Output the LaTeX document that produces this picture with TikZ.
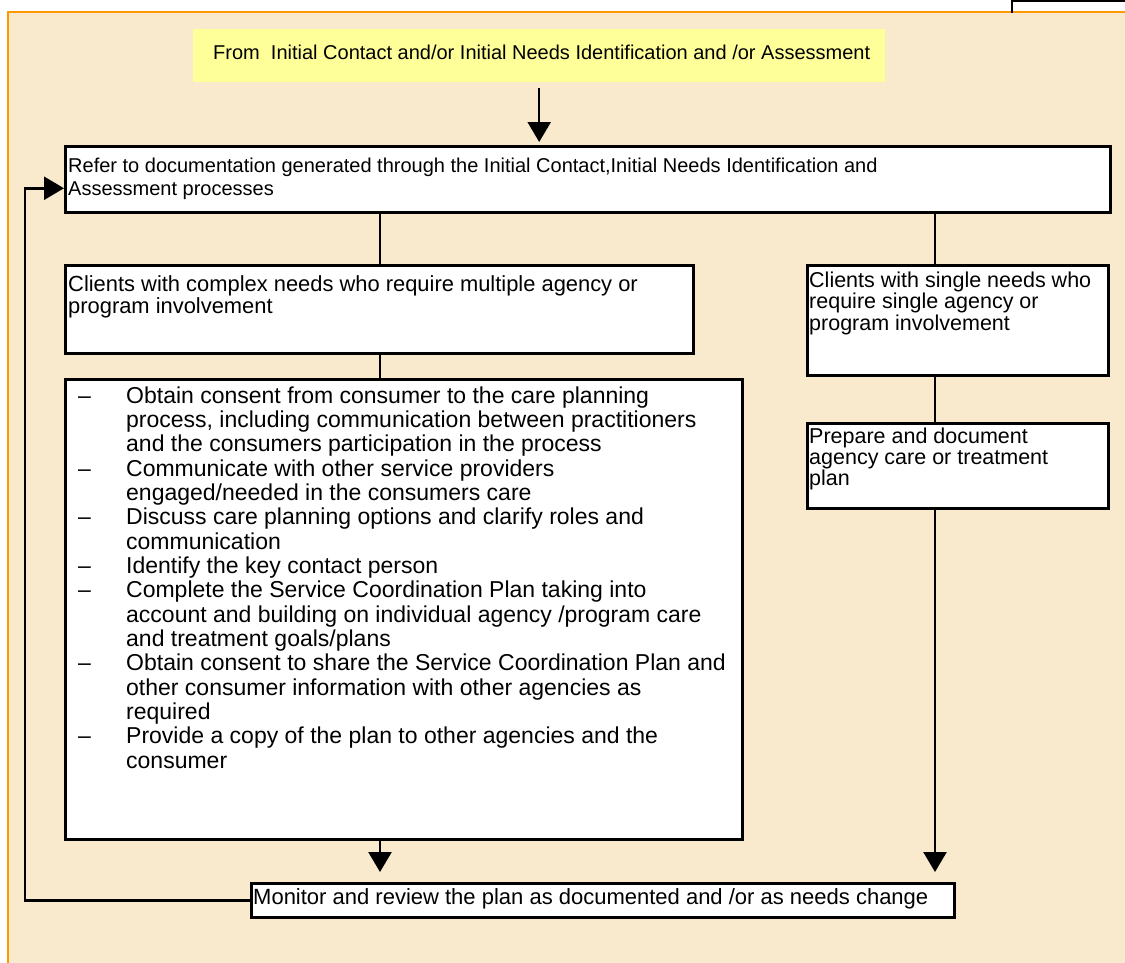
\documentclass[tikz,border=0pt]{standalone}
\usepackage{fontspec}
\setmainfont{Liberation Sans}
\usetikzlibrary{arrows.meta}

\definecolor{parchment}{RGB}{250,234,205}
\definecolor{frameorange}{RGB}{255,153,0}
\definecolor{notebg}{RGB}{255,255,153}

% left-aligned block of lines whose baseline is the first line
\newcommand\txtlines[1]{\begin{tabular}[t]{@{}l@{}}#1\end{tabular}}

\begin{document}
\begin{tikzpicture}[x=1pt,y=-1pt,
  box/.style={draw=black, line width=2.5pt, fill=white, inner sep=0pt, anchor=north west},
  link/.style={line width=2.5pt},
  arr/.style={line width=2.5pt, -{Triangle[width=23pt,length=20pt]}},
  txt/.style={anchor=base west, inner sep=0pt, align=left},
  f20/.style={font=\fontsize{20}{21}\selectfont},
  fside/.style={font=\fontsize{21.5}{21}\selectfont},
  f22/.style={font=\fontsize{23}{24.35}\selectfont}]

\useasboundingbox (0,0) rectangle (1125,962);
\fill[white] (0,0) rectangle (1125,962);

% page frame
\draw[draw=frameorange, line width=2.5pt, fill=parchment] (8,12) rectangle (1140,980);
\draw[line width=2pt] (1012,13) -- (1012,1) -- (1130,1);

% boxes
\node[fill=notebg, inner sep=0pt, anchor=north west, minimum width=692pt, minimum height=53pt] (source) at (193,29) {};
\node[box, minimum width=1045pt, minimum height=66pt] (refer) at (64,145) {};
\node[box, minimum width=628pt, minimum height=88pt] (complex) at (64,264) {};
\node[box, minimum width=677pt, minimum height=460pt] (bullets) at (64,378) {};
\node[box, minimum width=301pt, minimum height=110pt] (single) at (806,264) {};
\node[box, minimum width=301pt, minimum height=85pt] (prepare) at (806,422) {};
\node[box, minimum width=703pt, minimum height=34pt] (monitor) at (250,882) {};

% texts
\node[txt, f20] (sourcetext) at (213,59) {From\ \ Initial Contact and/or Initial Needs Identification and /or Assessment};
\node[txt, font=\fontsize{20}{23}\selectfont] (refertext) at (68,172) {\txtlines{Refer to documentation generated through the Initial Contact,Initial Needs Identification and\\Assessment processes}};
\node[txt, font=\fontsize{21.9}{22}\selectfont] (complextext) at (68,291) {\txtlines{Clients with complex needs who require multiple agency or\\program involvement}};
\node[txt, f22] (bullettext) at (78,403) {\begin{tabular}[t]{@{}p{48pt}@{}l@{}}
\textendash & Obtain consent from consumer to the care planning\\
 & process, including communication between practitioners\\
 & and the consumers participation in the process\\
\textendash & Communicate with other service providers\\
 & engaged/needed in the consumers care\\
\textendash & Discuss care planning options and clarify roles and\\
 & communication\\
\textendash & Identify the key contact person\\
\textendash & Complete the Service Coordination Plan taking into\\
 & account and building on individual agency /program care\\
 & and treatment goals/plans\\
\textendash & Obtain consent to share the Service Coordination Plan and\\
 & other consumer information with other agencies as\\
 & required\\
\textendash & Provide a copy of the plan to other agencies and the\\
 & consumer
\end{tabular}};
\node[txt, fside] (singletext) at (809,287) {\txtlines{Clients with single needs who\\require single agency or\\program involvement}};
\node[txt, fside] (preparetext) at (809,443) {\txtlines{Prepare and document\\agency care or treatment\\plan}};
\node[txt, font=\fontsize{22}{22}\selectfont] (monitortext) at (253,904) {Monitor and review the plan as documented and /or as needs change};

% connectors
\coordinate (leftx) at (380,0);
\coordinate (rightx) at (935,0);
\coordinate (sourceout) at ([yshift=-6pt]source.south);
\coordinate (referin) at ([yshift=3pt]refer.north);
\coordinate (mtop) at ([yshift=10pt]monitor.north);
\coordinate (backin) at ([yshift=-9pt]refer.west);

\draw[arr] (sourceout) -- (sourceout |- referin);
\draw[link] (refer.south -| leftx) -- (complex.north -| leftx);
\draw[link] (refer.south -| rightx) -- (single.north -| rightx);
\draw[link] (complex.south -| leftx) -- (bullets.north -| leftx);
\draw[arr] (bullets.south -| leftx) -- (mtop -| leftx);
\draw[link] (single.south -| rightx) -- (prepare.north -| rightx);
\draw[arr] (prepare.south -| rightx) -- (mtop -| rightx);
\draw[arr] (monitor.west) -- ++(-225,0) |- (backin);
\end{tikzpicture}
\end{document}
